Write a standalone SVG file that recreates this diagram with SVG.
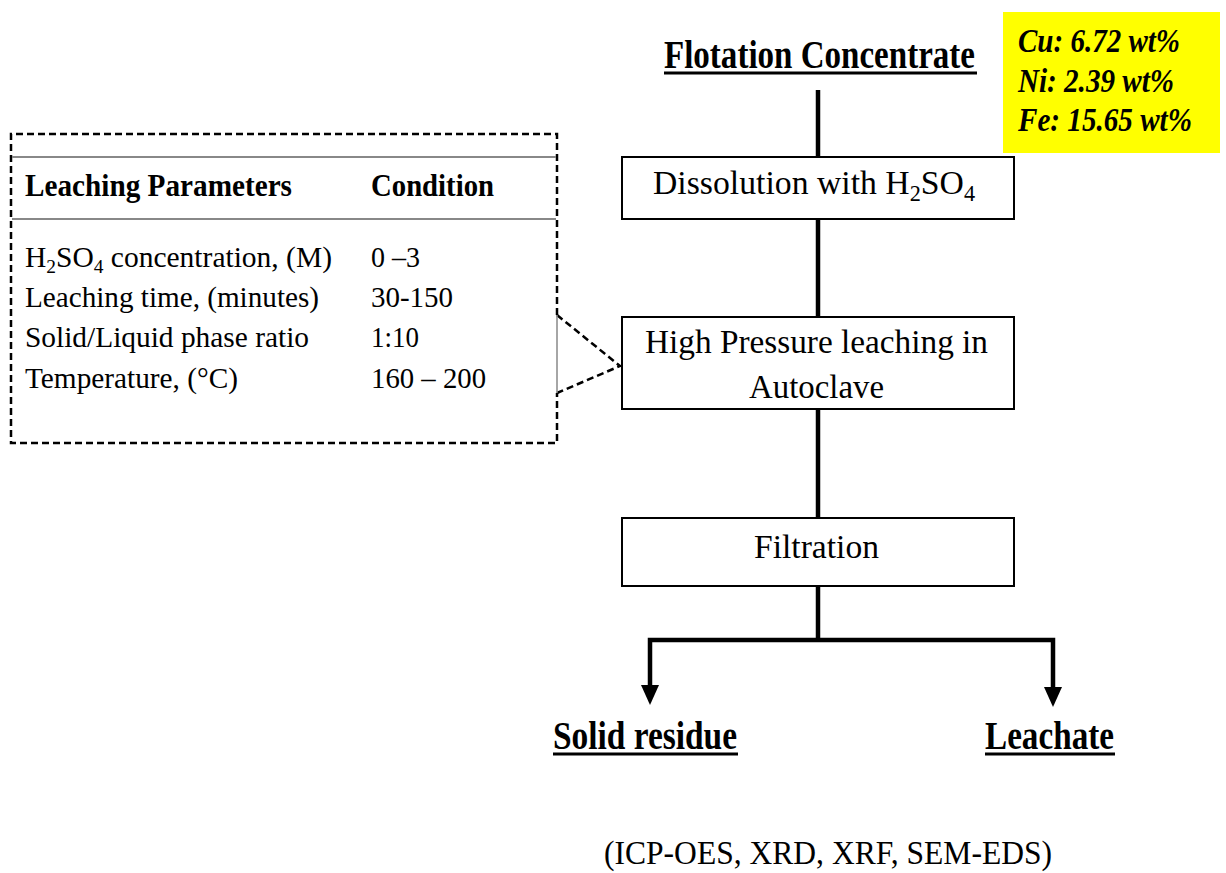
<svg xmlns="http://www.w3.org/2000/svg" width="1226" height="873" viewBox="0 0 1226 873">
  <style>
    .serif { font-family: "Liberation Serif", "Times New Roman", Times, serif; fill: #000; }
    .step { font-size: 34px; }
    .title { font-size: 39px; font-weight: bold; }
    .comp { font-size: 33px; font-weight: bold; font-style: italic; }
    .tbl { font-size: 30px; }
    .tblh { font-size: 31px; font-weight: bold; }
    .sub { font-size: 0.66em; baseline-shift: -0.3em; }
    .box { fill: #fff; stroke: #000; stroke-width: 2; }
    .stem { fill: none; stroke: #000; stroke-width: 4.5; }
    .dash { fill: none; stroke: #000; stroke-width: 2.5; stroke-dasharray: 7 4; }
    .rule { stroke: #888; stroke-width: 2; }
  </style>

  <rect width="1226" height="873" fill="#fff"/>

  <!-- connectors -->
  <g id="connectors">
    <line class="stem" x1="818" y1="90" x2="818" y2="157"/>
    <line class="stem" x1="818" y1="219" x2="818" y2="317"/>
    <line class="stem" x1="818" y1="409" x2="818" y2="518"/>
    <line class="stem" x1="818" y1="586" x2="818" y2="640"/>
    <polyline class="stem" points="650,689 650,640 1053,640 1053,690"/>
    <path d="M641,685 L659,685 L650,705 Z" fill="#000"/>
    <path d="M1044,687 L1062,687 L1053,707 Z" fill="#000"/>
    <!-- callout from the parameter table to the leaching step -->
    <polyline class="dash" points="557,315 620,366 557,393"/>
  </g>

  <!-- feed -->
  <g id="feed">
    <text class="serif title" x="664" y="68" textLength="311" lengthAdjust="spacingAndGlyphs">Flotation Concentrate</text>
    <rect x="664" y="71.5" width="313" height="3" fill="#000"/>
  </g>

  <!-- feed composition -->
  <g id="composition">
    <rect x="1003" y="12" width="217" height="141" fill="#ffff00"/>
    <text class="serif comp" x="1018" y="52" textLength="162" lengthAdjust="spacingAndGlyphs">Cu: 6.72 wt%</text>
    <text class="serif comp" x="1018" y="92" textLength="156" lengthAdjust="spacingAndGlyphs">Ni: 2.39 wt%</text>
    <text class="serif comp" x="1018" y="131" textLength="174" lengthAdjust="spacingAndGlyphs">Fe: 15.65 wt%</text>
  </g>

  <!-- process steps -->
  <g id="dissolution">
    <rect class="box" x="622" y="157" width="392" height="62"/>
    <text class="serif step" x="653" y="194" textLength="322" lengthAdjust="spacingAndGlyphs">Dissolution with H<tspan class="sub">2</tspan>SO<tspan class="sub">4</tspan></text>
  </g>

  <g id="leaching">
    <rect class="box" x="622" y="317" width="392" height="92"/>
    <text class="serif step" x="645" y="353" textLength="343" lengthAdjust="spacingAndGlyphs">High Pressure leaching in</text>
    <text class="serif step" x="749" y="398" textLength="135" lengthAdjust="spacingAndGlyphs">Autoclave</text>
  </g>

  <g id="filtration">
    <rect class="box" x="622" y="518" width="392" height="68"/>
    <text class="serif step" x="754" y="558" textLength="125" lengthAdjust="spacingAndGlyphs">Filtration</text>
  </g>

  <!-- products -->
  <g id="solid-residue">
    <text class="serif title" x="553" y="749" textLength="184" lengthAdjust="spacingAndGlyphs">Solid residue</text>
    <rect x="553" y="752.5" width="185" height="3" fill="#000"/>
  </g>

  <g id="leachate">
    <text class="serif title" x="985" y="749" textLength="129" lengthAdjust="spacingAndGlyphs">Leachate</text>
    <rect x="985" y="752.5" width="130" height="3" fill="#000"/>
  </g>

  <g id="analysis">
    <text class="serif step" x="604" y="864" textLength="448" lengthAdjust="spacingAndGlyphs">(ICP-OES, XRD, XRF, SEM-EDS)</text>
  </g>

  <!-- leaching parameter table -->
  <g id="parameters">
    <path class="dash" d="M557,315 L557,134 L11,134 L11,443 L557,443 L557,393"/>
    <line x1="557" y1="315" x2="557" y2="393" stroke="#888" stroke-width="1.5"/>
    <line class="rule" x1="12" y1="157" x2="556" y2="157"/>
    <line class="rule" x1="12" y1="219" x2="556" y2="219"/>
    <text class="serif tblh" x="25" y="196" textLength="267" lengthAdjust="spacingAndGlyphs">Leaching Parameters</text>
    <text class="serif tblh" x="371" y="196" textLength="123" lengthAdjust="spacingAndGlyphs">Condition</text>

    <text class="serif tbl" x="25" y="267" textLength="307" lengthAdjust="spacingAndGlyphs">H<tspan class="sub">2</tspan>SO<tspan class="sub">4</tspan> concentration,  (M)</text>
    <text class="serif tbl" x="25" y="307" textLength="294" lengthAdjust="spacingAndGlyphs">Leaching time,  (minutes)</text>
    <text class="serif tbl" x="25" y="347" textLength="284" lengthAdjust="spacingAndGlyphs">Solid/Liquid phase ratio</text>
    <text class="serif tbl" x="25" y="388" textLength="213" lengthAdjust="spacingAndGlyphs">Temperature, (°C)</text>

    <text class="serif tbl" x="371" y="267" textLength="49" lengthAdjust="spacingAndGlyphs">0 –3</text>
    <text class="serif tbl" x="371" y="307" textLength="82" lengthAdjust="spacingAndGlyphs">30-150</text>
    <text class="serif tbl" x="371" y="347" textLength="48" lengthAdjust="spacingAndGlyphs">1:10</text>
    <text class="serif tbl" x="371" y="388" textLength="115" lengthAdjust="spacingAndGlyphs">160 – 200</text>
  </g>
</svg>
